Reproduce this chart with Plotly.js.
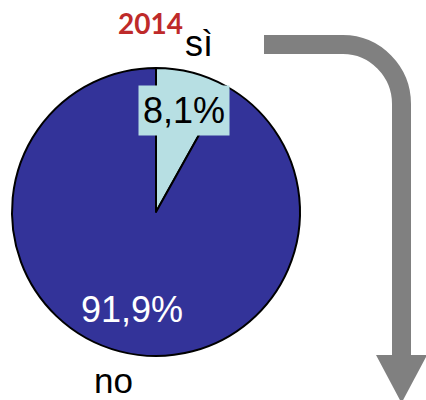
<!DOCTYPE html>
<html>
<head>
<meta charset="utf-8">
<script src="https://cdn.plot.ly/plotly-3.0.1.min.js"></script>
<style>html,body{margin:0;padding:0;background:#fff;}#chart{width:426px;height:400px;}</style>
</head>
<body>
<div id="chart"></div>
<script>
const year = '2014';
const labels = ['sì', 'no'];
const values = [8.1, 91.9];
const colors = ['#B7DFE3', '#333399'];

function pct(v) { return v.toFixed(1).replace('.', ',') + '%'; }

const traces = [
  {
    type: 'pie',
    labels: labels,
    values: values,
    sort: false,
    direction: 'clockwise',
    rotation: 0,
    textinfo: 'none',
    hoverinfo: 'label+percent',
    marker: { colors: colors, line: { color: '#000000', width: 2 } },
    domain: { x: [12 / 426, 300 / 426], y: [1 - 356 / 400, 1 - 68 / 400] },
    showlegend: false
  },
  { type: 'scatter', x: [], y: [], xaxis: 'x', yaxis: 'y', hoverinfo: 'skip', showlegend: false }
];

const layout = {
  width: 426, height: 400,
  margin: { l: 0, r: 0, t: 0, b: 0 },
  paper_bgcolor: '#ffffff', plot_bgcolor: 'rgba(0,0,0,0)',
  xaxis: { range: [0, 426], visible: false, fixedrange: true, domain: [0, 1] },
  yaxis: { range: [400, 0], visible: false, fixedrange: true, domain: [0, 1] },
  shapes: [
    { type: 'path', xref: 'x', yref: 'y', layer: 'above',
      path: 'M 264 44.5 L 343 44.5 C 375.3 44.5 401.5 71.7 401.5 104 L 401.5 357',
      line: { color: '#808080', width: 19 }, fillcolor: 'rgba(0,0,0,0)' },
    { type: 'path', xref: 'x', yref: 'y', layer: 'above',
      path: 'M 376 355 L 427 355 L 401.5 403 Z',
      line: { width: 0 }, fillcolor: '#808080' }
  ],
  annotations: [
    { xref: 'x', yref: 'y', x: 150, y: 23, text: '<b>' + year + '</b>', showarrow: false,
      font: { family: 'Lato, sans-serif', size: 28, color: '#BE2A2A', weight: 900 } },
    { xref: 'x', yref: 'y', x: 199, y: 43, text: labels[0], showarrow: false,
      font: { family: 'Liberation Sans, Arial, sans-serif', size: 36, color: '#000000' } },
    { xref: 'x', yref: 'y', x: 184, y: 110.5, text: pct(values[0]), showarrow: false,
      bgcolor: colors[0], borderpad: 4,
      font: { family: 'Liberation Sans, Arial, sans-serif', size: 36, color: '#000000' } },
    { xref: 'x', yref: 'y', x: 132, y: 309, text: pct(values[1]), showarrow: false,
      font: { family: 'Liberation Sans, Arial, sans-serif', size: 36, color: '#ffffff' } },
    { xref: 'x', yref: 'y', x: 113, y: 380, text: labels[1], showarrow: false,
      font: { family: 'Liberation Sans, Arial, sans-serif', size: 35, color: '#000000' } }
  ]
};

Plotly.newPlot('chart', traces, layout, { staticPlot: true, displayModeBar: false });
</script>
</body>
</html>
